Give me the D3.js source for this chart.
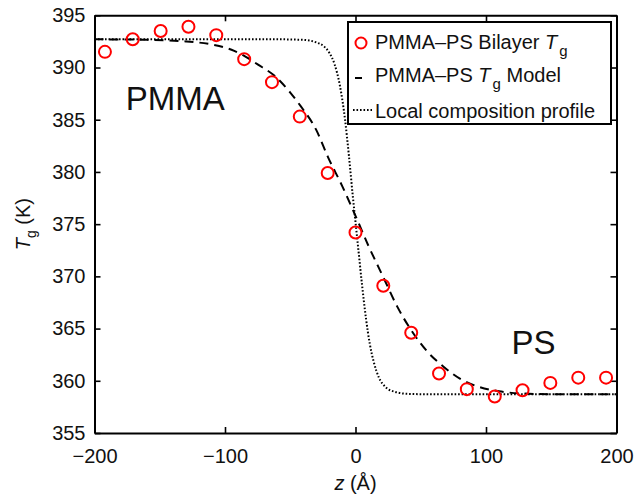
<!DOCTYPE html>
<html>
<head>
<meta charset="utf-8">
<script src="https://cdn.jsdelivr.net/npm/d3@7"></script>
<style>
  html, body { margin: 0; padding: 0; background: #fff; }
  svg { display: block; font-family: "Liberation Sans", Arial, Helvetica, sans-serif; }
</style>
</head>
<body>
<svg id="chart" width="636" height="496"></svg>
<script>
// Measured bilayer Tg at each depth z (Å)
const zMeasured = [-192, -170.7, -149.3, -128, -106.7, -85.3, -64, -42.7, -21.3, 0,
                   21.3, 42.7, 64, 85.3, 106.7, 128, 149.3, 170.7, 192];
const tgMeasured = [391.5, 392.7, 393.5, 393.9, 393.1, 390.8, 388.6, 385.3, 379.9, 374.2,
                    369.1, 364.6, 360.7, 359.2, 358.5, 359.1, 359.8, 360.3, 360.3];

// Tg model curve
const zModel = [-200, -160, -130, -110, -95, -85, -75, -62, -50, -42, -30, -21, -10, 0,
                10, 21, 32, 44, 55, 67, 80, 95, 110, 125, 150, 200];
const tgModel = [392.7, 392.65, 392.5, 392.2, 391.7, 391.1, 390.3, 389.2, 387.6, 386.3, 384.0, 381.4, 378.6, 375.8,
                 372.9, 370.0, 367.1, 364.6, 362.8, 361.4, 360.2, 359.4, 359.0, 358.8, 358.72, 358.7];

// Local composition profile, expressed on the Tg scale
const zProfile = [-200, -60, -40, -30, -24, -20, -16, -12, -8, -5, -2, 0,
                  2, 5, 8, 11, 14, 18, 23, 30, 40, 60, 200];
const tgProfile = [392.7, 392.7, 392.65, 392.4, 392.0, 391.4, 390.3, 388.3, 385.0, 381.5, 377.6, 375.2,
                   372.8, 369.2, 366.0, 363.5, 361.8, 360.3, 359.4, 358.95, 358.75, 358.7, 358.7];

const xTicks = [-200, -100, 0, 100, 200];
const yTicks = [355, 360, 365, 370, 375, 380, 385, 390, 395];

const legendLabels = [
  ["PMMA\u2013PS Bilayer ", "T", "g", ""],
  ["PMMA\u2013PS ", "T", "g", " Model"],
  ["Local composition profile"]
];
const regionLabels = [
  { text: "PMMA", z: -176, tg: 385.9 },
  { text: "PS", z: 119.5, tg: 362.6 }
];

const svg = d3.select("#chart");
const plotLeft = 94.5, plotRight = 616.5, plotTop = 15.3, plotBottom = 433;

const x = d3.scaleLinear().domain([-200, 200]).range([plotLeft, plotRight]);
const y = d3.scaleLinear().domain([355, 395]).range([plotBottom, plotTop]);

const tickFont = 20;

function styleAxis(g) {
  g.attr("font-family", null).attr("font-size", null);
  g.select(".domain").attr("stroke", "#000").attr("stroke-width", 2);
  g.selectAll(".tick line").attr("stroke", "#000").attr("stroke-width", 1.6);
  g.selectAll(".tick text").attr("fill", "#111").style("font-size", tickFont + "px");
}

// Axes with inward ticks on all four sides
svg.append("g").attr("transform", `translate(0,${plotBottom})`)
  .call(d3.axisBottom(x).tickValues(xTicks).tickSize(-6).tickSizeOuter(0).tickPadding(16)
    .tickFormat(d => d < 0 ? "\u2212" + Math.abs(d) : d))
  .call(styleAxis);
svg.append("g").attr("transform", `translate(${plotLeft},0)`)
  .call(d3.axisLeft(y).tickValues(yTicks).tickSize(-6).tickSizeOuter(0).tickPadding(9))
  .call(styleAxis);
svg.append("g").attr("transform", `translate(0,${plotTop})`)
  .call(d3.axisTop(x).tickValues(xTicks).tickSize(-6).tickSizeOuter(0).tickFormat(""))
  .call(styleAxis);
svg.append("g").attr("transform", `translate(${plotRight},0)`)
  .call(d3.axisRight(y).tickValues(yTicks).tickSize(-6).tickSizeOuter(0).tickFormat(""))
  .call(styleAxis);

// Curves
const line = d3.line().x(d => x(d[0])).y(d => y(d[1])).curve(d3.curveMonotoneX);

svg.append("path")
  .datum(d3.zip(zProfile, tgProfile))
  .attr("d", line)
  .attr("fill", "none").attr("stroke", "#000").attr("stroke-width", 2)
  .attr("stroke-dasharray", "1.6,1.9");

svg.append("path")
  .datum(d3.zip(zModel, tgModel))
  .attr("d", line)
  .attr("fill", "none").attr("stroke", "#000").attr("stroke-width", 2)
  .attr("stroke-dasharray", "9,6");

// Measured points
svg.append("g").selectAll("circle")
  .data(d3.zip(zMeasured, tgMeasured))
  .join("circle")
  .attr("cx", d => x(d[0])).attr("cy", d => y(d[1])).attr("r", 6)
  .attr("fill", "none").attr("stroke", "#ff0000").attr("stroke-width", 2);

// Region labels
svg.append("g").selectAll("text")
  .data(regionLabels)
  .join("text")
  .attr("x", d => x(d.z)).attr("y", d => y(d.tg))
  .attr("font-size", 33).attr("fill", "#111")
  .text(d => d.text);

// Axis titles
const xTitle = svg.append("text")
  .attr("x", x(0)).attr("y", 490).attr("text-anchor", "middle")
  .attr("font-size", 20).attr("fill", "#111");
xTitle.append("tspan").attr("font-style", "italic").text("z");
xTitle.append("tspan").text(" (\u00c5)");

const yTitle = svg.append("text")
  .attr("transform", `translate(30,${(plotTop + plotBottom) / 2}) rotate(-90)`)
  .attr("text-anchor", "middle")
  .attr("font-size", 20).attr("fill", "#111");
yTitle.append("tspan").attr("font-style", "italic").text("T");
yTitle.append("tspan").attr("font-size", 14).attr("dy", 6).text("g");
yTitle.append("tspan").attr("dy", -6).text(" (K)");

// Legend
const legend = svg.append("g");
legend.append("rect")
  .attr("x", 348).attr("y", 22).attr("width", 263).attr("height", 102)
  .attr("fill", "#fff").attr("stroke", "#000").attr("stroke-width", 2);

const rowBase = [48.5, 82, 118];
legend.append("circle").attr("cx", 361).attr("cy", 43).attr("r", 5.5)
  .attr("fill", "none").attr("stroke", "#ff0000").attr("stroke-width", 2);
legend.append("line").attr("x1", 355).attr("x2", 362).attr("y1", 78).attr("y2", 78)
  .attr("stroke", "#000").attr("stroke-width", 2);
legend.append("line").attr("x1", 353).attr("x2", 372).attr("y1", 110).attr("y2", 110)
  .attr("stroke", "#000").attr("stroke-width", 2).attr("stroke-dasharray", "1.6,1.9");

legendLabels.forEach((parts, i) => {
  const t = legend.append("text").attr("x", 375).attr("y", rowBase[i])
    .attr("font-size", 20).attr("fill", "#111");
  t.append("tspan").text(parts[0]);
  if (parts.length > 1) {
    t.append("tspan").attr("font-style", "italic").text(parts[1]);
    t.append("tspan").attr("font-size", 15).attr("dy", 7).attr("dx", 2).text(parts[2]);
    if (parts[3]) t.append("tspan").attr("dy", -7).text(parts[3]);
  }
});
</script>
</body>
</html>
